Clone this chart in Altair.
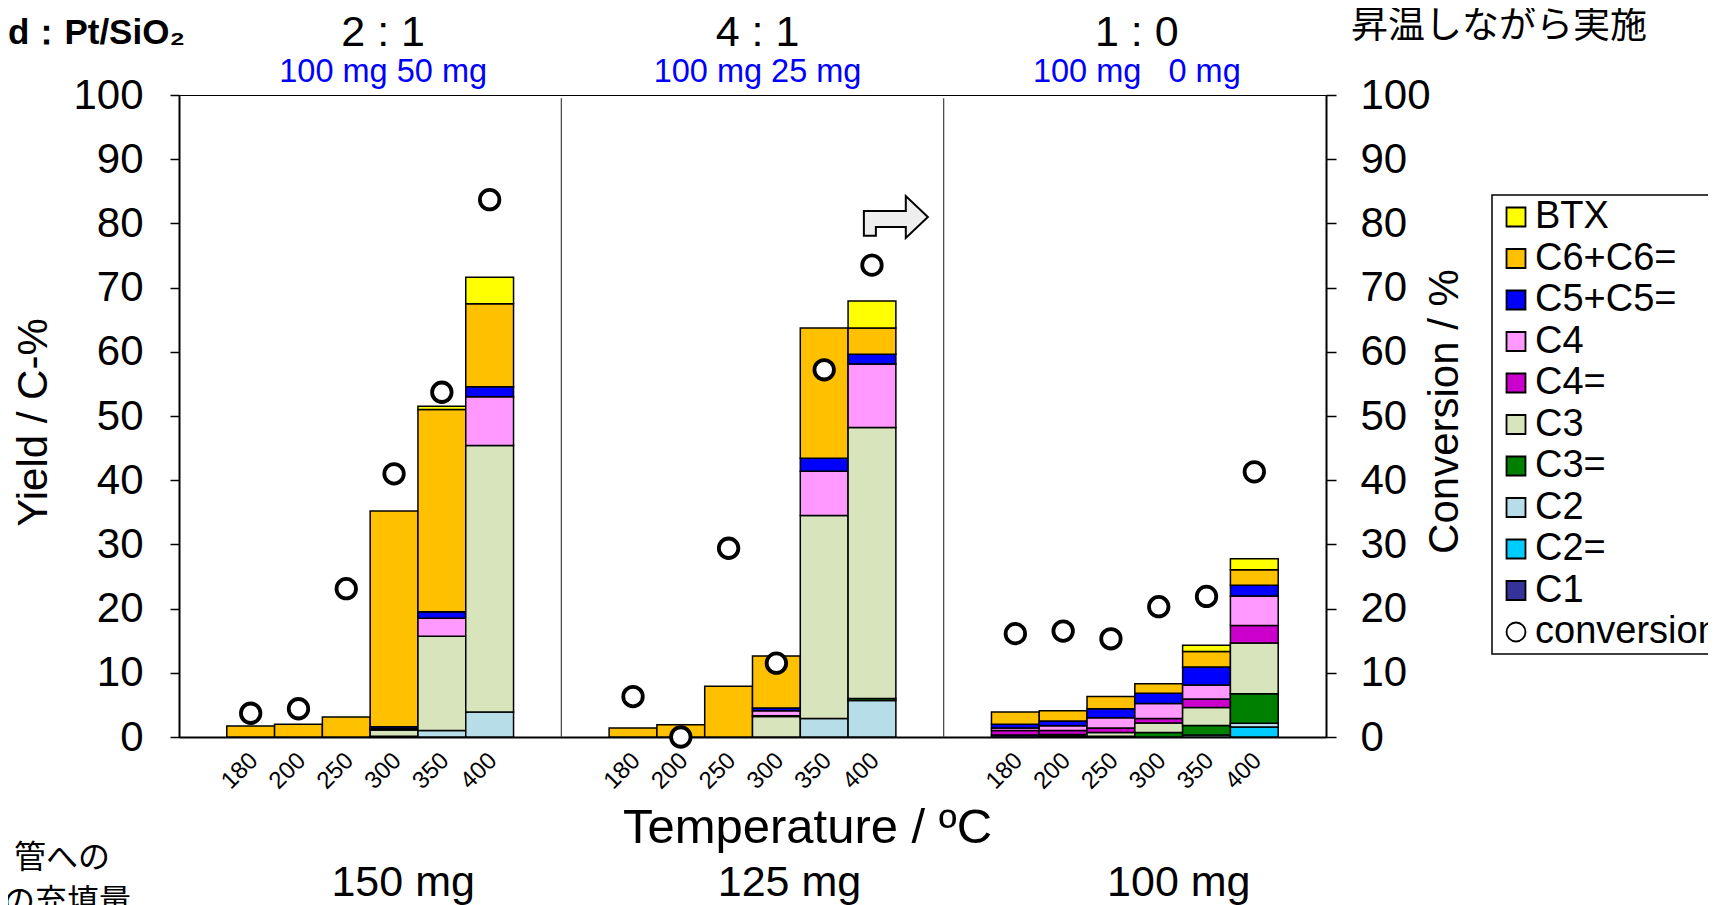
import altair as alt
import pandas as pd

FONT = "Liberation Sans"
JP_FONT = "Noto Sans CJK JP"

# ---------------- data ----------------
panels = ["2:1", "4:1", "1:0"]
temperatures = ["180", "200", "250", "300", "350", "400"]

stack_order = ["C1", "C2=", "C2", "C3=", "C3", "C4=", "C4", "C5+C5=", "C6+C6=", "BTX"]
legend_order = ["BTX", "C6+C6=", "C5+C5=", "C4", "C4=", "C3", "C3=", "C2", "C2=", "C1", "conversion"]
legend_colors = ["#FFFF00", "#FFC000", "#0000FF", "#FF99FF", "#CC00CC", "#D8E4BC",
                 "#008000", "#B7DEE8", "#00CCFF", "#333399", "#FFFFFF"]
legend_shapes = ["square"] * 10 + ["circle"]

yield_2_1 = {
    "C1":     [0, 0, 0, 0, 0, 0],
    "C2=":    [0, 0, 0, 0, 0, 0],
    "C2":     [0, 0, 0, 0.1, 1.0, 3.9],
    "C3=":    [0, 0, 0, 0, 0, 0],
    "C3":     [0, 0, 0, 1.0, 14.7, 41.5],
    "C4=":    [0, 0, 0, 0.1, 0, 0],
    "C4":     [0, 0, 0, 0.1, 2.8, 7.6],
    "C5+C5=": [0, 0, 0, 0.3, 1.0, 1.55],
    "C6+C6=": [1.7, 2.0, 3.1, 33.6, 31.5, 12.95],
    "BTX":    [0, 0, 0, 0, 0.5, 4.1],
}
yield_4_1 = {
    "C1":     [0, 0, 0, 0, 0, 0],
    "C2=":    [0, 0, 0, 0, 0, 0],
    "C2":     [0, 0, 0, 0, 2.9, 5.7],
    "C3=":    [0, 0, 0, 0, 0, 0.3],
    "C3":     [0, 0, 0, 3.2, 31.6, 42.2],
    "C4=":    [0, 0, 0, 0.1, 0, 0],
    "C4":     [0, 0, 0, 0.8, 6.9, 9.9],
    "C5+C5=": [0, 0, 0, 0.4, 2.0, 1.5],
    "C6+C6=": [1.4, 1.9, 7.9, 8.1, 20.3, 4.1],
    "BTX":    [0, 0, 0, 0, 0, 4.2],
}
yield_1_0 = {
    "C1":     [0.3, 0.2, 0, 0, 0, 0],
    "C2=":    [0, 0, 0, 0, 0, 1.55],
    "C2":     [0, 0, 0, 0, 0.3, 0.6],
    "C3=":    [0, 0, 0.1, 0.7, 1.5, 4.6],
    "C3":     [0, 0.2, 0.6, 1.5, 2.8, 7.9],
    "C4=":    [0.7, 0.6, 0.7, 0.7, 1.3, 2.7],
    "C4":     [0.4, 0.75, 1.6, 2.3, 2.2, 4.6],
    "C5+C5=": [0.6, 0.75, 1.4, 1.6, 2.8, 1.7],
    "C6+C6=": [1.9, 1.6, 1.9, 1.5, 2.4, 2.4],
    "BTX":    [0, 0, 0, 0, 1.0, 1.7],
}
conversion_2_1 = [3.7, 4.4, 23.1, 41.0, 53.7, 83.7]
conversion_4_1 = [6.3, 0.0, 29.4, 11.5, 57.2, 73.5]
conversion_1_0 = [16.1, 16.5, 15.3, 20.3, 21.9, 41.3]

ratio_labels = ["2 : 1", "4 : 1", "1 : 0"]
mass_labels = ["100 mg 50 mg", "100 mg 25 mg", "100 mg \u00a0\u00a00 mg"]
total_labels = ["150 mg", "125 mg", "100 mg"]
arrow_level = 81

# ---------------- tables ----------------
slots = []
for p in panels:
    slots += [p + "|_a"] + [p + "|" + t for t in temperatures] + [p + "|_b"]

yields = [yield_2_1, yield_4_1, yield_1_0]
convs = [conversion_2_1, conversion_4_1, conversion_1_0]

bar_rows, conv_rows = [], []
for p, yd, cv in zip(panels, yields, convs):
    for i, t in enumerate(temperatures):
        key = p + "|" + t
        for k, s in enumerate(stack_order):
            v = yd[s][i]
            if v > 0:
                bar_rows.append({"key": key, "series": s, "value": v, "idx": k})
        conv_rows.append({"key": key, "series": "conversion", "conv": cv[i]})
bars_df = pd.DataFrame(bar_rows)
conv_df = pd.DataFrame(conv_rows)

panel_df = pd.DataFrame({
    "key": [p + "|300" for p in panels],
    "ratio": ratio_labels,
    "mass": mass_labels,
    "total": total_labels,
})
divider_df = pd.DataFrame({"key": [panels[1] + "|_a", panels[2] + "|_a"]})
arrow_df = pd.DataFrame({"key": [panels[1] + "|400"], "level": [arrow_level]})

# ---------------- scales / axes ----------------
x_scale = alt.Scale(domain=slots, paddingInner=0, paddingOuter=0)
y_scale = alt.Scale(domain=[0, 100], nice=False)
fill_scale = alt.Scale(domain=legend_order, range=legend_colors)
shape_scale = alt.Scale(domain=legend_order, range=legend_shapes)

legend_kw = dict(
    title=None, orient="none", legendX=1313, legendY=100, padding=3,
    strokeColor="black", fillColor="white",
    labelFont=FONT, labelFontSize=38, labelColor="black", labelLimit=500,
    symbolSize=360, symbolStrokeWidth=1.8, symbolStrokeColor="black",
    rowPadding=3.5, labelOffset=0, symbolOffset=2,
)

label_expr = "indexof(datum.value, '_') >= 0 ? '' : split(datum.value, '|')[1]"

x_axis = alt.Axis(
    title="Temperature / ºC", titleFont=FONT, titleFontSize=49, titleFontWeight="normal",
    titleColor="black", titleX=628, titleY=90, titleBaseline="middle", titleAlign="center",
    labelAngle=-45, labelFont=FONT, labelFontSize=24, labelColor="black", labelPadding=11,
    labelOffset=-5, labelExpr=label_expr, labelOverlap=False, ticks=False,
    domainColor="black", domainWidth=2,
)
y_axis_left = alt.Axis(
    title="Yield / C-%", titleFont=FONT, titleFontSize=42, titleFontWeight="normal",
    titleColor="black", titleX=-146, titleY=327, titleAngle=270, titleBaseline="middle",
    titleAlign="center", values=list(range(0, 101, 10)), labelFont=FONT, labelFontSize=42,
    labelColor="black", labelPadding=27, tickSize=9, tickWidth=1.5, tickColor="black",
    domainColor="black", domainWidth=2, grid=False,
)
y_axis_right = alt.Axis(
    orient="right", title="Conversion / %", titleFont=FONT, titleFontSize=42,
    titleFontWeight="normal", titleColor="black", titleX=118, titleY=316, titleAngle=270,
    titleBaseline="middle", titleAlign="center", values=list(range(0, 101, 10)),
    labelFont=FONT, labelFontSize=42, labelColor="black", labelPadding=24, tickSize=10,
    tickWidth=1.5, tickColor="black", domainColor="black", domainWidth=2, grid=False,
)


def xenc(band=0.5):
    return alt.X("key:N", scale=x_scale, axis=x_axis, bandPosition=band)


# ---------------- layers ----------------
bars = alt.Chart(bars_df).mark_bar(stroke="black", strokeWidth=1.5, opacity=1).encode(
    x=alt.X("key:N", scale=x_scale, axis=x_axis),
    y=alt.Y("value:Q", stack="zero", scale=y_scale, axis=y_axis_left),
    fill=alt.Fill("series:N", scale=fill_scale, legend=alt.Legend(**legend_kw)),
    order=alt.Order("idx:Q"),
)

dividers = alt.Chart(divider_df).mark_rule(color="#404040", strokeWidth=1.2).encode(
    x=xenc(0),
    y=alt.datum(0),
    y2=alt.datum(99.5),
)

arrow_path = ("M -1 0.59 L -1 -0.19 L 0.31 -0.19 L 0.31 -0.656 L 1 0 L 0.31 0.656 "
              "L 0.31 0.31 L -0.625 0.31 L -0.625 0.59 Z")
arrow = alt.Chart(arrow_df).mark_point(
    shape=arrow_path, size=4096, filled=True, fill="#EEEEEE", stroke="black",
    strokeWidth=2, opacity=1,
).encode(
    x=xenc(1),
    y=alt.Y("level:Q", scale=y_scale, axis=y_axis_left),
)

# per-panel horizontal nudges of the annotation texts (style only)
ratio_dx = [13, 5, 2]
total_dx = [33, 37, 44]

text_layers = []
for i in range(len(panels)):
    sub = panel_df.iloc[[i]]
    text_layers.append(alt.Chart(sub).mark_text(
        font=FONT, fontSize=43, color="black", baseline="middle", align="center", dx=ratio_dx[i],
    ).encode(x=xenc(0), y=alt.value(-62), text="ratio:N"))
    text_layers.append(alt.Chart(sub).mark_text(
        font=FONT, fontSize=32.5, color="#0000FF", baseline="middle", align="center", dx=ratio_dx[i],
    ).encode(x=xenc(0), y=alt.value(-23), text="mass:N"))
    text_layers.append(alt.Chart(sub).mark_text(
        font=FONT, fontSize=43, color="black", baseline="middle", align="center", dx=total_dx[i],
    ).encode(x=xenc(0), y=alt.value(788), text="total:N"))

notes_df = pd.DataFrame({
    "t": ["d：Pt/SiO₂", "昇温しながら実施", "管への", "の充填量"],
})
title_left = alt.Chart(notes_df.iloc[[0]]).mark_text(
    font=FONT, fontSize=35, fontWeight="bold", color="black", align="left", baseline="middle",
).encode(x=alt.value(-171), y=alt.value(-62), text="t:N")
title_right = alt.Chart(notes_df.iloc[[1]]).mark_text(
    font=JP_FONT, fontSize=37, color="black", align="center", baseline="middle",
).encode(x=alt.value(1320), y=alt.value(-68), text="t:N")
note1 = alt.Chart(notes_df.iloc[[2]]).mark_text(
    font=JP_FONT, fontSize=32, color="black", align="right", baseline="middle",
).encode(x=alt.value(-69), y=alt.value(763), text="t:N")
note2 = alt.Chart(notes_df.iloc[[3]]).mark_text(
    font=JP_FONT, fontSize=32, color="black", align="right", baseline="middle",
).encode(x=alt.value(-48), y=alt.value(807), text="t:N")

points = alt.Chart(conv_df).mark_point(
    filled=True, size=380, stroke="black", strokeWidth=3.8, opacity=1,
).encode(
    x=alt.X("key:N", scale=x_scale, axis=x_axis),
    y=alt.Y("conv:Q", scale=y_scale, axis=y_axis_right),
    fill=alt.Fill("series:N", scale=fill_scale, legend=alt.Legend(**legend_kw)),
    shape=alt.Shape("series:N", scale=shape_scale, legend=alt.Legend(**legend_kw)),
)

inner = alt.layer(bars, dividers, arrow, *text_layers, title_left, title_right, note1, note2)

chart = alt.layer(inner, points).resolve_scale(y="independent").properties(
    width=1147,
    height=642,
    padding={"left": 171, "top": 87, "right": 382, "bottom": 168},
    autosize=alt.AutoSizeParams(type="none"),
    background="white",
).configure_view(stroke="black", strokeWidth=1).configure_legend(strokeWidth=1.5)

chart.save("out.html", embed_options={"renderer": "svg", "actions": False})
